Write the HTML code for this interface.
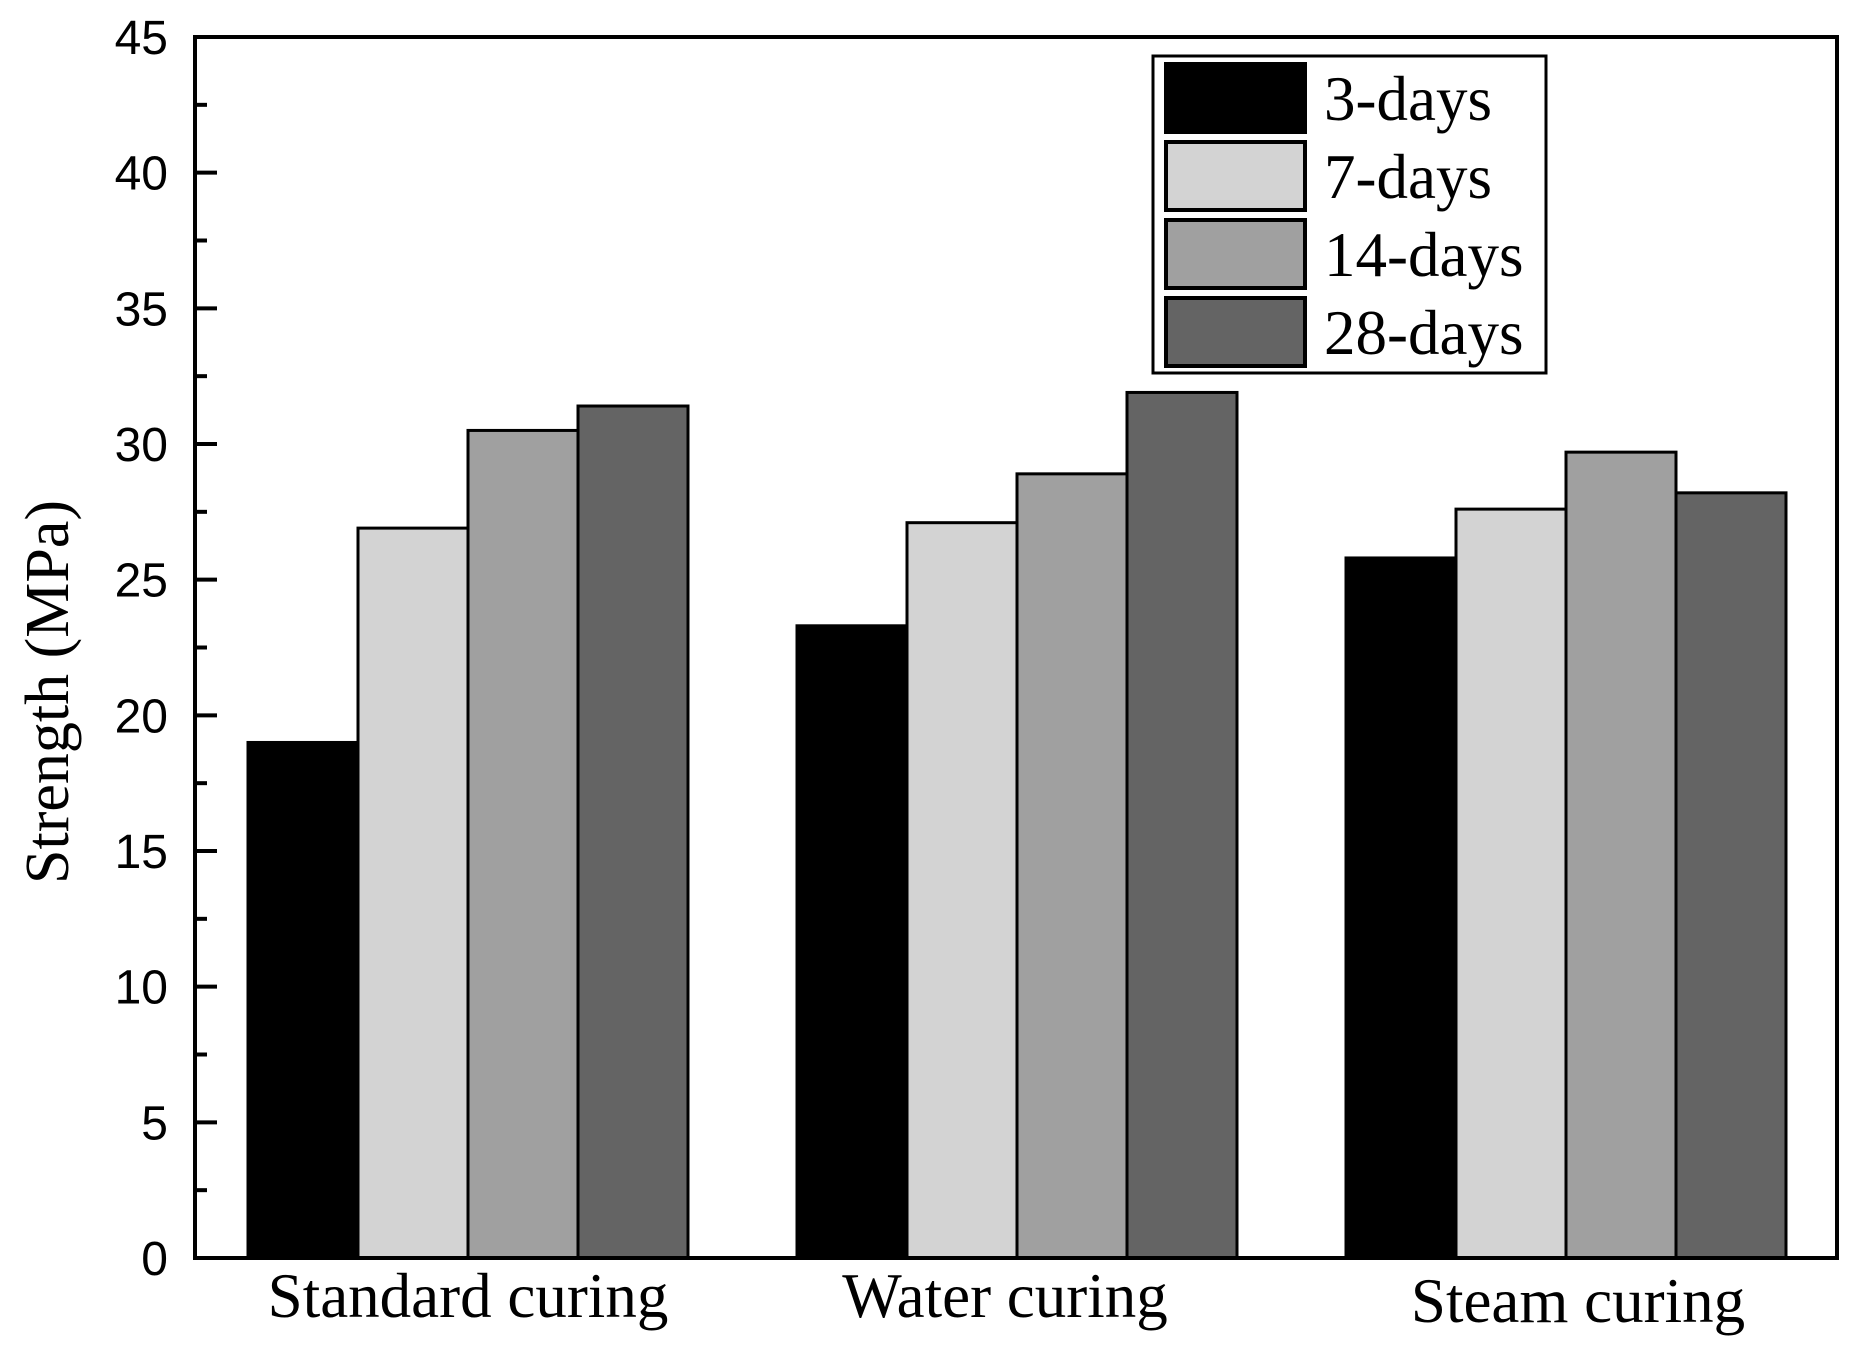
<!DOCTYPE html>
<html><head><meta charset="utf-8"><style>
html,body{margin:0;padding:0;background:#fff}
svg{display:block}
</style></head><body>
<svg id="chart" width="1870" height="1350" xmlns="http://www.w3.org/2000/svg"></svg>
<script>
const categories = ["Standard curing","Water curing","Steam curing"];
const seriesNames = ["3-days","7-days","14-days","28-days"];
const s3 = [19.0, 23.3, 25.8];
const s7 = [26.9, 27.1, 27.6];
const s14 = [30.5, 28.9, 29.7];
const s28 = [31.4, 31.9, 28.2];
const yTicks = [0,5,10,15,20,25,30,35,40,45];

const series = [s3, s7, s14, s28];
const colors = ["#000000","#d3d3d3","#a0a0a0","#646464"];
const labelShift = [0, -12, 12];
const svg = document.getElementById('chart');
const NS = "http://www.w3.org/2000/svg";
const L=195, R=1837, T=37, B=1258, yMax=45;
const y = v => B - v/yMax*(B-T);
const groupStart = 248, groupStep = 549, barW = 110;
const x = (c, s) => groupStart + c*groupStep + s*barW;

function mk(tag, attrs, parent){
  const e = document.createElementNS(NS, tag);
  for (const k in attrs) e.setAttribute(k, attrs[k]);
  (parent||svg).appendChild(e);
  return e;
}

series.forEach((arr, s) => {
  arr.forEach((v, c) => {
    const r = mk('rect', {x:x(c,s), y:y(v), width:barW, height:B-y(v), fill:colors[s], stroke:'#000', 'stroke-width':3});
    
    
  });
});

const fr = mk('rect', {x:L, y:T, width:R-L, height:B-T, fill:'none', stroke:'#000', 'stroke-width':4});



yTicks.forEach((t, i) => {
  mk('line', {x1:L, x2:L+22, y1:y(t), y2:y(t), stroke:'#000', 'stroke-width':4});
  if (i < yTicks.length-1) mk('line', {x1:L, x2:L+12, y1:y(t+2.5), y2:y(t+2.5), stroke:'#000', 'stroke-width':4});
  const tx = mk('text', {x:L-27, y:y(t)+17, 'text-anchor':'end', 'font-family':'Liberation Sans, sans-serif', 'font-size':48});
  tx.textContent = t;
  
  
});

categories.forEach((c, i) => {
  const tx = mk('text', {x:x(i,2)+labelShift[i], y:i==2?1322:1317, 'text-anchor':'middle', 'font-family':'Liberation Serif, serif', 'font-size':63});
  tx.textContent = c;
  
  
});

const yt = mk('text', {x:0, y:0, transform:'translate(68,692) rotate(-90)', 'text-anchor':'middle', 'font-family':'Liberation Serif, serif', 'font-size':62});
yt.textContent = 'Strength (MPa)';



const lg = mk('g', {});


mk('rect', {x:1153, y:56, width:393, height:317, fill:'#fff', stroke:'#000', 'stroke-width':3}, lg);
const rowsY = [63, 141, 219, 297];
seriesNames.forEach((n, i) => {
  const g = mk('g', {}, lg);
  
  
  mk('rect', {x:1166, y:rowsY[i]+1, width:139, height:68, fill:colors[i], stroke:'#000', 'stroke-width':4}, g);
  const tx = mk('text', {x:1324, y:rowsY[i]+57, 'font-family':'Liberation Serif, serif', 'font-size':63}, g);
  tx.textContent = n;
});
</script>
</body></html>
